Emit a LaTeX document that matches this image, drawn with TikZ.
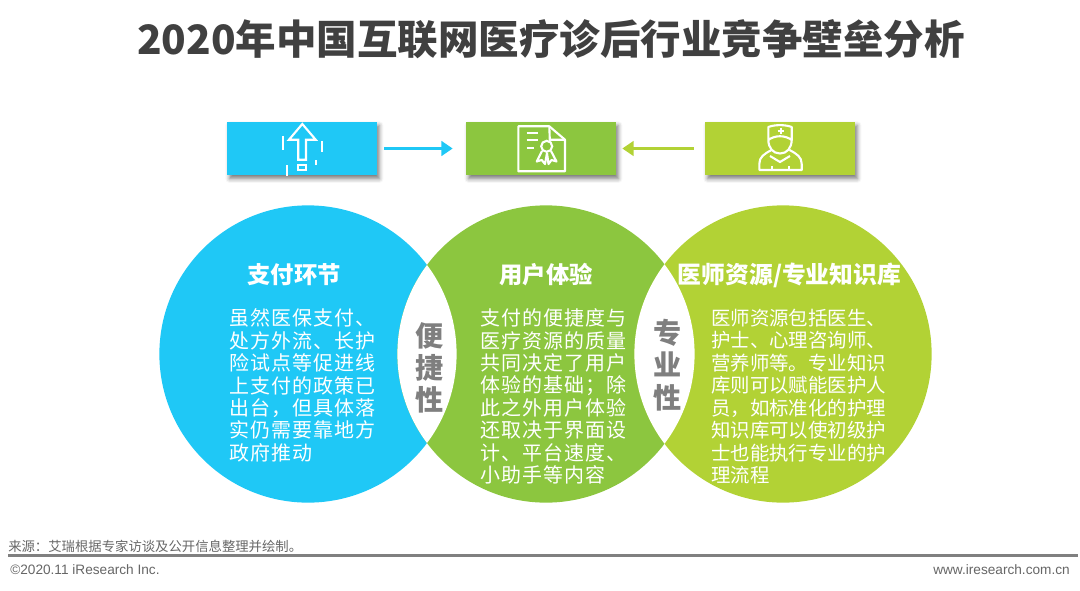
\documentclass[tikz,border=0pt]{standalone}
\usepackage{fontspec}
\setmainfont{Noto Sans CJK SC}
\newfontfamily\cjkwide[LetterSpace=5]{Noto Sans CJK SC}
\newfontfamily\latinfont{Liberation Sans}
\usetikzlibrary{arrows.meta,shadows.blur}
\definecolor{skyblue}{HTML}{1FC8F6}
\definecolor{midgreen}{HTML}{8CC63F}
\definecolor{limegreen}{HTML}{B2D235}
\definecolor{lensgray}{HTML}{7F7F7F}
\tikzset{
    topbox/.style={minimum width=3.75cm, minimum height=1.34cm, inner sep=0pt,
        blur shadow={shadow xshift=0.06cm, shadow yshift=-0.09cm, shadow blur radius=0.1cm, shadow opacity=50}},
    bigcircle/.style={circle, minimum size=7.43cm, inner sep=0pt},
    headtext/.style={text=white, font=\fontsize{16.6}{20}\selectfont\bfseries},
    bodytext/.style={text=white, anchor=north west, align=left, inner sep=0pt,
        font=\cjkwide\fontsize{14.2}{15.95}\selectfont},
    lenstext/.style={text=lensgray, align=center, inner sep=0pt,
        font=\fontsize{20}{22.9}\selectfont\bfseries},
    icon/.style={draw=white, line width=1.5pt},
    arrowline/.style={line width=2.6pt, -{Triangle[length=0.28cm,width=0.36cm]}}
}
\begin{document}
\begin{tikzpicture}[x=0.025cm, y=-0.025cm]
    \useasboundingbox (0,0) rectangle (1080,591);

    % Title
    \node[text=black!75, font=\fontsize{28.8}{34}\selectfont\bfseries] (title) at (551,39) {2020年中国互联网医疗诊后行业竞争壁垒分析};

    % Top boxes
    \node[topbox, fill=skyblue] (paybox) at (302,148.5) {};
    \node[topbox, fill=midgreen] (userbox) at (541,148.5) {};
    \node[topbox, fill=limegreen] (docbox) at (780,148.5) {};

    % Arrows
    \draw[arrowline, draw=skyblue, shorten <=0.175cm, shorten >=0.325cm] (paybox.east) -- (userbox.west);
    \draw[arrowline, draw=limegreen, shorten <=0.275cm, shorten >=0.15cm] (docbox.west) -- (userbox.east);

    % Upload icon
    \draw[icon] (302.3,124) -- (289,139.7) -- (298.3,139.7) -- (298.3,159.7) -- (306,159.7) -- (306,139.7) -- (315.7,139.7) -- cycle;
    \draw[icon] (298.3,164.7) rectangle (306,169.7);
    \draw[icon] (283.3,136) -- (283.3,150);
    \draw[icon] (321.7,141) -- (321.7,152);
    \draw[icon] (315.7,160) -- (315.7,165);
    \draw[icon] (287.3,165) -- (287.3,176);

    % Certificate icon
    \draw[icon, line join=round] (549.3,126.3) -- (518.3,126.3) -- (518.3,171.3) -- (565,171.3) -- (565,139.7) -- cycle;
    \draw[icon] (549.3,126.3) -- (549.8,139.7) -- (565,139.7);
    \draw[icon] (526.7,133) -- (538.3,133);
    \draw[icon] (526.7,140) -- (538.3,140);
    \draw[icon] (526.7,148) -- (534,148);
    \draw[icon] (546.7,146.3) circle (5.5);
    \draw[icon, line join=round] (542,151) -- (536.7,161.5) -- (541.7,160) -- (545,164) -- (547,153);
    \draw[icon, line join=round] (551,151) -- (556.5,161.5) -- (551.5,160) -- (548.5,164) -- (547,153);

    % Doctor icon
    \draw[icon, line join=round] (768.3,140) -- (768.3,127) .. controls (775,124.5) and (785,124.5) .. (791.7,127) -- (791.7,140) .. controls (785,135) and (775,135) .. (768.3,140);
    \draw[icon] (768.3,140) .. controls (768.5,148) and (773,153.5) .. (780,153.5) .. controls (787,153.5) and (791.5,148) .. (791.7,140);
    \draw[icon] (780.7,128) -- (780.7,134.5);
    \draw[icon] (777.5,131.3) -- (784,131.3);
    \draw[icon, line join=round] (771.5,150) .. controls (764,154) and (759.3,157) .. (759.3,164) -- (759.3,170) -- (801.7,170) -- (801.7,164) .. controls (801.7,157) and (797,154) .. (789.5,150);
    \draw[icon] (770,156) -- (780,162) -- (790,156);
    \draw[icon] (772,166) -- (772,170);
    \draw[icon] (789,166) -- (789,170);

    % Circles
    \node[bigcircle, fill=skyblue] (paycircle) at (308,354) {};
    \node[bigcircle, fill=midgreen] (usercircle) at (546,354) {};
    \node[bigcircle, fill=limegreen] (doccircle) at (783,354) {};

    % White overlaps
    \begin{scope}
        \clip (308,354) circle (148.6);
        \fill[white] (546,354) circle (148.6);
    \end{scope}
    \begin{scope}
        \clip (546,354) circle (148.6);
        \fill[white] (783,354) circle (148.6);
    \end{scope}

    % Headings
    \node[headtext] (payhead) at (294,275) {支付环节};
    \node[headtext] (userhead) at (546,275) {用户体验};
    \node[headtext, font=\fontsize{16.9}{20}\selectfont\bfseries] (dochead) at (789.5,275) {医师资源/专业知识库};

    % Body texts
    \node[bodytext] (paytext) at (229,308.5) {虽然医保支付、\\处方外流、长护\\险试点等促进线\\上支付的政策已\\出台，但具体落\\实仍需要靠地方\\政府推动};
    \node[bodytext] (usertext) at (480,308.5) {支付的便捷度与\\医疗资源的质量\\共同决定了用户\\体验的基础；除\\此之外用户体验\\还取决于界面设\\计、平台速度、\\小助手等内容};
    \node[bodytext, font=\fontsize{13.8}{16}\selectfont] (doctext) at (711,308.5) {医师资源包括医生、\\护士、心理咨询师、\\营养师等。专业知识\\库则可以赋能医护人\\员，如标准化的护理\\知识库可以使初级护\\士也能执行专业的护\\理流程};

    % Lens labels
    \node[lenstext] (convlabel) at (430,368) {便\\捷\\性};
    \node[lenstext] (prolabel) at (668,365) {专\\业\\性};

    % Footer
    \node[anchor=west, inner sep=0pt, text=black!60, font=\fontsize{9.5}{11}\selectfont] (source) at (8,546) {来源：艾瑞根据专家访谈及公开信息整理并绘制。};
    \coordinate (ruleleft) at (8,555.5);
    \coordinate (ruleright) at (1078,555.5);
    \draw[line width=1.5pt, draw=black!50] (ruleleft) -- (ruleright);
    \node[anchor=west, inner sep=0pt, text=black!60, font=\latinfont\fontsize{9.7}{11}\selectfont] (copyright) at (10,570) {©2020.11 iResearch Inc.};
    \node[anchor=east, inner sep=0pt, text=black!60, font=\latinfont\fontsize{9.7}{11}\selectfont] (website) at (1070,570) {www.iresearch.com.cn};
\end{tikzpicture}
\end{document}
